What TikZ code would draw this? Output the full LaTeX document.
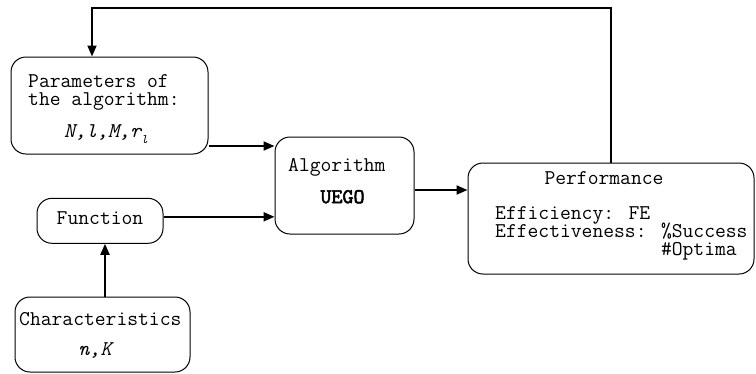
\documentclass[tikz,border=0pt]{standalone}
\usepackage{fontspec}
\newfontfamily\uegobold{lmmono10-regular.otf}[FakeBold=2.5]
\usetikzlibrary{arrows.meta}
\begin{document}
\begin{tikzpicture}[x=1pt,y=-1pt,font=\ttfamily\fontsize{21}{18}\selectfont,
  box/.style={draw,rounded corners=15pt,line width=1pt,inner sep=0pt},
  arr/.style={line width=2pt,-{Triangle[length=11pt,width=9pt]}},
  txt/.style={inner sep=0pt,anchor=mid west,text height=12pt,text depth=3pt},
  ctxt/.style={inner sep=0pt,anchor=mid}]
\useasboundingbox (0,0) rectangle (756,373);
% boxes
\node[box,minimum width=197pt,minimum height=97pt] (params) at (109.5,105.5) {};
\node[box,minimum width=139pt,minimum height=97pt] (alg) at (344.5,185.5) {};
\node[box,minimum width=286pt,minimum height=111pt] (perf) at (611,218.5) {};
\node[box,minimum width=126pt,minimum height=45pt] (func) at (100,220.8) {};
\node[box,minimum width=175pt,minimum height=75pt] (char) at (102.5,334.5) {};
% texts
\node[txt] (t1) at (28,85) {Parameters of};
\node[txt] (t2) at (28,103) {the algorithm:};
\node[ctxt] (t3) at (106,135) {\itshape N,l,M,r\raisebox{-6pt}{\fontsize{13}{13}\selectfont l}};
\node[txt] (t4) at (288,169) {Algorithm};
\node[ctxt] (t5) at (342.5,201) {\uegobold\fontsize{21}{18}\selectfont UEGO};
\node[ctxt] (t6) at (604,182) {Performance};
\node[txt] (t7) at (495,217) {Efficiency: FE};
\node[txt] (t8) at (495,235) {Effectiveness: \%Success};
\node[txt] (t9) at (495,253) {\hphantom{Effectiveness: }\#Optima};
\node[ctxt] (t10) at (100,222) {Function};
\node[txt] (t11) at (19,323) {Characteristics};
\node[ctxt] (t12) at (95,353) {\itshape n,K};
% connectors
\coordinate (p1) at ([yshift=-40.5pt]params.east);
\draw[arr] (p1) -- (p1 -| alg.west);
\coordinate (f1) at ([yshift=4pt]func.east);
\draw[arr] (f1) -- (f1 -| alg.west);
\coordinate (a1) at ([yshift=-4.5pt]alg.east);
\draw[arr] (a1) -- (a1 -| perf.west);
\coordinate (c1) at ([xshift=2.5pt]char.north);
\draw[arr] (c1) -- (c1 |- func.south);
\coordinate (top) at (92,8);
\draw[arr] (perf.north) |- (top) -- (top |- params.north);
\end{tikzpicture}
\end{document}
